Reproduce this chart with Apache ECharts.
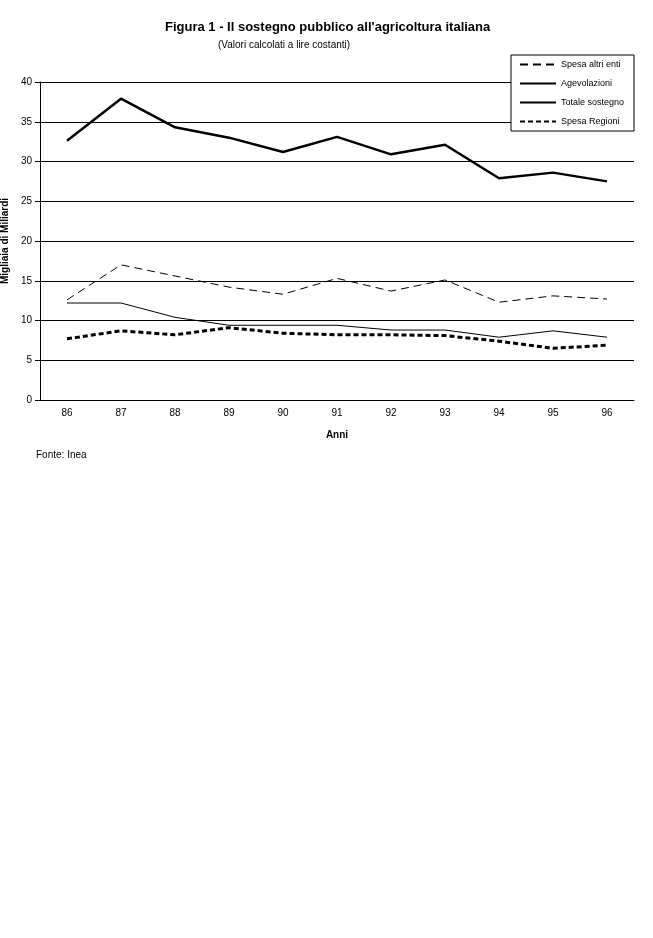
<!DOCTYPE html>
<html>
<head>
<meta charset="utf-8">
<script src="https://cdn.jsdelivr.net/npm/echarts@6/dist/echarts.min.js"></script>
<style>body{margin:0;background:#fff}#c{width:653px;height:938px}</style>
</head>
<body>
<div id="c"></div>
<script>
var anni = ['86', '87', '88', '89', '90', '91', '92', '93', '94', '95', '96'];
var spesaAltriEnti = [12.6, 17.0, 15.6, 14.2, 13.3, 15.3, 13.7, 15.1, 12.3, 13.1, 12.7];
var agevolazioni = [12.2, 12.2, 10.4, 9.4, 9.4, 9.4, 8.8, 8.8, 7.9, 8.7, 7.9];
var totaleSostegno = [32.6, 37.9, 34.3, 33.0, 31.2, 33.1, 30.9, 32.1, 27.9, 28.6, 27.5];
var spesaRegioni = [7.7, 8.7, 8.2, 9.1, 8.4, 8.2, 8.2, 8.1, 7.4, 6.5, 6.9];

function serie(name, data, width, type) {
    return {
        name: name,
        type: 'line',
        data: data,
        showSymbol: false,
        symbol: 'none',
        lineStyle: {color: '#000', width: width, type: type},
        itemStyle: {color: '#000'}
    };
}

var option = {
    animation: false,
    textStyle: {fontFamily: 'Arial, Liberation Sans', color: '#000'},
    title: {
        text: 'Figura 1 - Il sostegno pubblico all\'agricoltura italiana',
        left: 160, top: 16,
        textStyle: {fontSize: 13, fontWeight: 'bold', color: '#000'}
    },
    legend: {
        orient: 'vertical',
        left: 511, top: 55,
        width: 126,
        itemWidth: 36, itemHeight: 10, itemGap: 10,
        padding: [5, 10, 5, 8],
        borderColor: '#000', borderWidth: 1,
        backgroundColor: '#fff',
        itemStyle: {opacity: 0},
        textStyle: {fontSize: 9, color: '#000'},
        data: ['Spesa altri enti', 'Agevolazioni', 'Totale sostegno', 'Spesa Regioni']
    },
    graphic: [{
        type: 'text', left: 218, top: 40,
        style: {text: '(Valori calcolati a lire costanti)', fontSize: 10, fill: '#000', fontFamily: 'Arial, Liberation Sans'}
    }, {
        type: 'text', left: 36, top: 450,
        style: {text: 'Fonte: Inea', fontSize: 10, fill: '#000', fontFamily: 'Arial, Liberation Sans'}
    }],
    grid: {left: 40, right: 19, top: 82, height: 318, outerBoundsMode: 'none', containLabel: false},
    xAxis: {
        type: 'category',
        data: anni,
        name: 'Anni', nameLocation: 'middle', nameGap: 30,
        nameTextStyle: {fontSize: 10, fontWeight: 'bold'},
        axisLine: {lineStyle: {color: '#000'}},
        axisTick: {lineStyle: {color: '#000'}},
        axisLabel: {fontSize: 10, color: '#000'}
    },
    yAxis: {
        type: 'value', min: 0, max: 40, interval: 5,
        name: 'Migliaia di Miliardi', nameLocation: 'middle', nameGap: 30,
        nameTextStyle: {fontSize: 10, fontWeight: 'bold'},
        axisLine: {show: true, lineStyle: {color: '#000'}},
        axisTick: {show: true, lineStyle: {color: '#000'}},
        axisLabel: {fontSize: 10, color: '#000'},
        splitLine: {lineStyle: {color: '#000', width: 1}}
    },
    series: [
        serie('Spesa altri enti', spesaAltriEnti, 1, [8, 5]),
        serie('Agevolazioni', agevolazioni, 1, 'solid'),
        serie('Totale sostegno', totaleSostegno, 2.5, 'solid'),
        serie('Spesa Regioni', spesaRegioni, 3, [5, 3])
    ]
};

var myChart = echarts.init(document.getElementById('c'));
myChart.setOption(option);
</script>
</body>
</html>
